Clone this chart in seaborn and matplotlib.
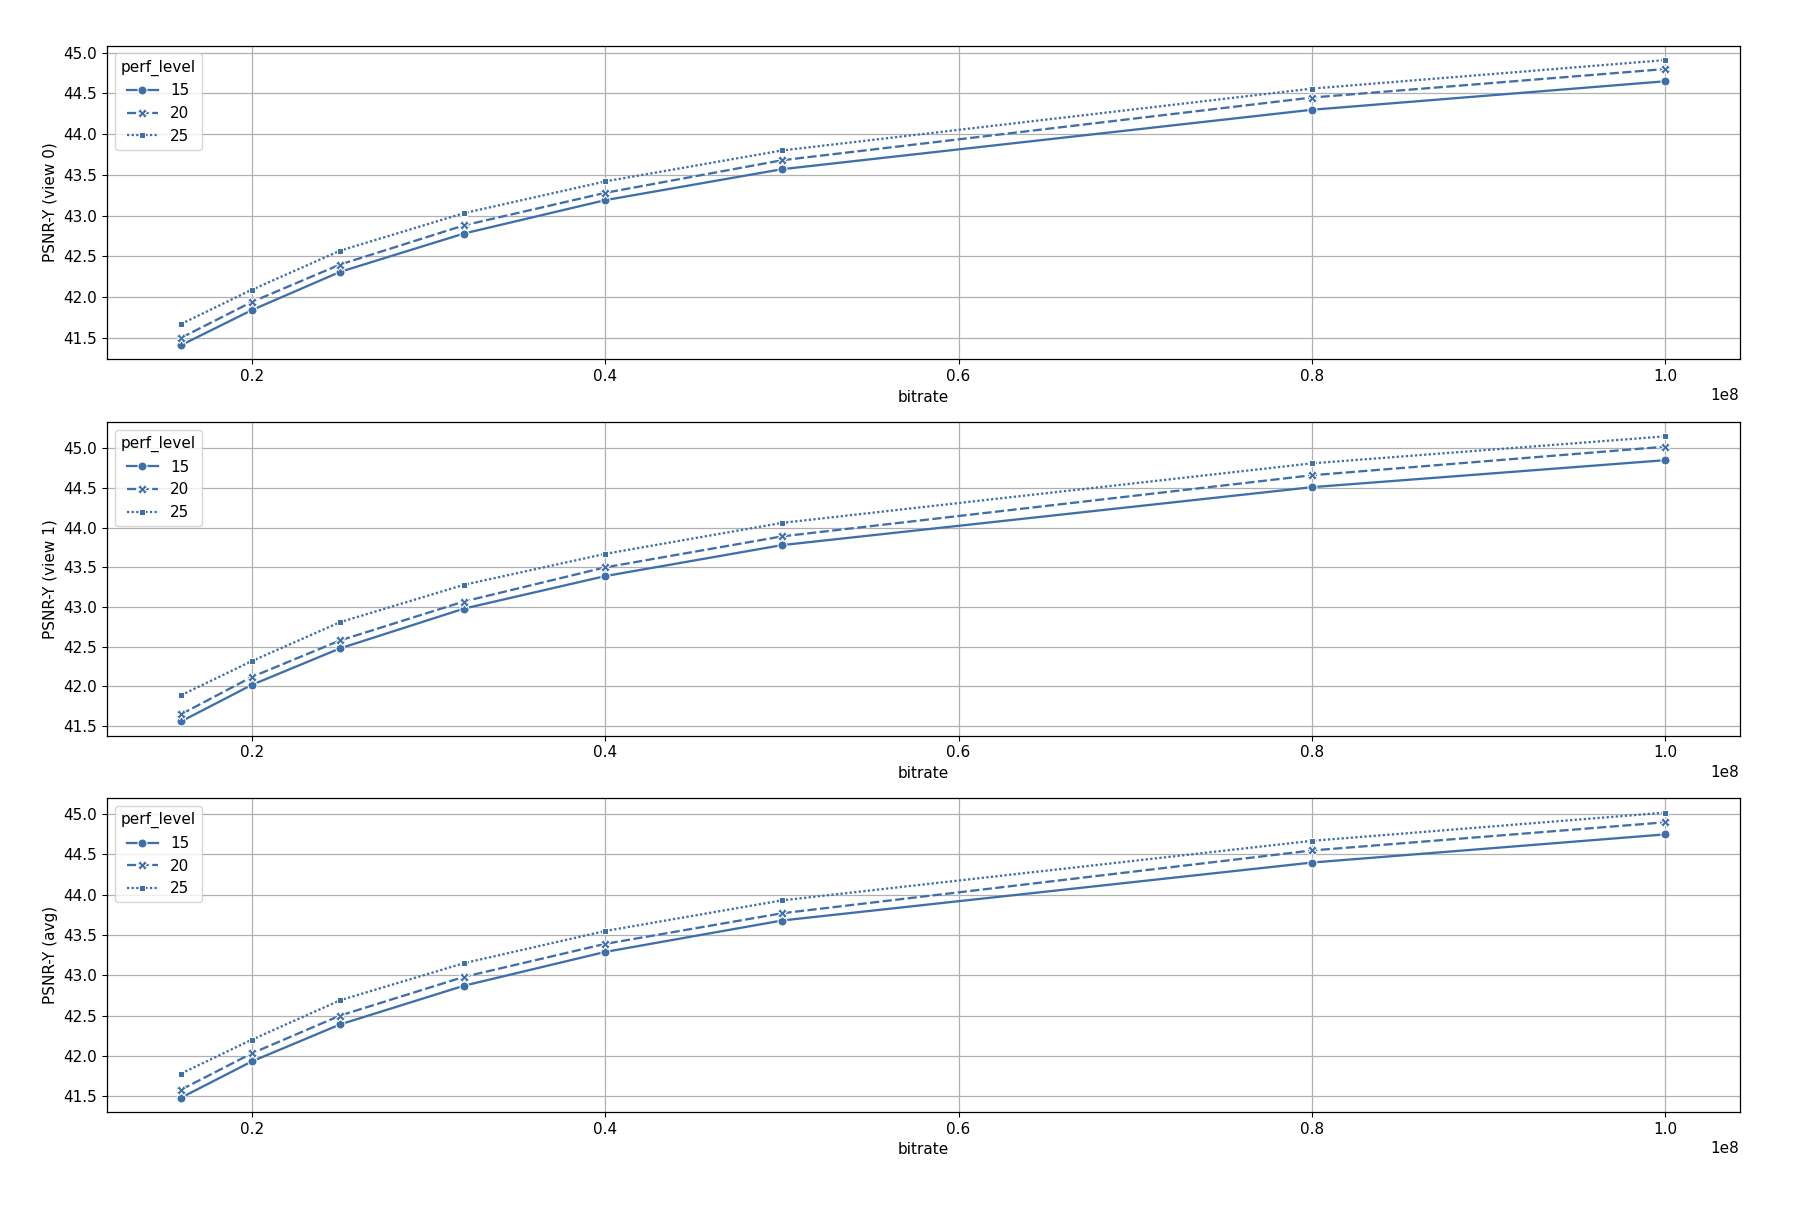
import pandas as pd
import matplotlib
matplotlib.use("Agg")
import matplotlib.pyplot as plt
import seaborn as sns

# bitrates (bps) and PSNR-Y per perf_level
bitrates = [16e6, 20e6, 25e6, 32e6, 40e6, 50e6, 80e6, 100e6]
perf_levels = [15, 20, 25]

psnr_view0 = {
    15: [41.41, 41.84, 42.31, 42.78, 43.19, 43.57, 44.30, 44.65],
    20: [41.50, 41.94, 42.40, 42.88, 43.28, 43.68, 44.45, 44.80],
    25: [41.67, 42.09, 42.57, 43.03, 43.42, 43.80, 44.56, 44.91],
}
psnr_view1 = {
    15: [41.56, 42.02, 42.48, 42.98, 43.39, 43.78, 44.51, 44.85],
    20: [41.65, 42.12, 42.58, 43.07, 43.50, 43.89, 44.66, 45.02],
    25: [41.89, 42.32, 42.81, 43.28, 43.67, 44.06, 44.81, 45.15],
}
psnr_avg = {
    15: [41.48, 41.93, 42.39, 42.87, 43.29, 43.68, 44.40, 44.75],
    20: [41.58, 42.03, 42.50, 42.98, 43.39, 43.77, 44.55, 44.90],
    25: [41.78, 42.20, 42.69, 43.15, 43.55, 43.93, 44.67, 45.02],
}

def to_frame(values, col):
    rows = []
    for lvl in perf_levels:
        for b, v in zip(bitrates, values[lvl]):
            rows.append({"bitrate": b, "perf_level": lvl, col: v})
    return pd.DataFrame(rows)

panels = [
    (psnr_view0, "PSNR-Y (view 0)"),
    (psnr_view1, "PSNR-Y (view 1)"),
    (psnr_avg, "PSNR-Y (avg)"),
]

# original looks like a slightly upscaled default render
plt.rcParams['font.size'] = 11
plt.rcParams['lines.linewidth'] = 1.65
plt.rcParams['axes.linewidth'] = 0.9
plt.rcParams['grid.linewidth'] = 0.9

fig, axes = plt.subplots(3, 1, figsize=(18.12, 12.06), dpi=100)
fig.subplots_adjust(left=0.059, right=0.960, top=0.962, bottom=0.078, hspace=0.2)

line_color = "#3f6fa8"

for ax, (vals, label) in zip(axes, panels):
    df = to_frame(vals, label)
    sns.lineplot(data=df, x="bitrate", y=label, style="perf_level",
                 markers=True, color=line_color, ax=ax, markersize=6.5)
    ax.grid(True)
    ax.legend(title="perf_level", loc="upper left")

plt.savefig("out.png", dpi=100)
